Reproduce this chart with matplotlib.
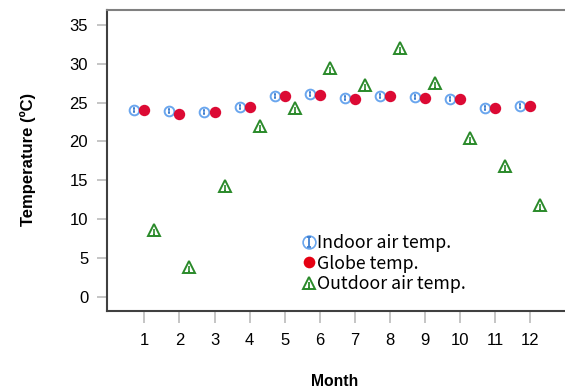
import matplotlib
matplotlib.use("Agg")
import matplotlib.pyplot as plt
from matplotlib.path import Path
from matplotlib.lines import Line2D
import numpy as np

months = [1, 2, 3, 4, 5, 6, 7, 8, 9, 10, 11, 12]
month_labels = ["1", "2", "3", "4", "5", "6", "7", "8", "9", "10", "11", "12"]
indoor = [24.1, 23.9, 23.85, 24.4, 25.9, 26.1, 25.6, 25.8, 25.7, 25.5, 24.35, 24.6]
globe = [24.1, 23.5, 23.75, 24.4, 25.9, 26.0, 25.5, 25.8, 25.65, 25.45, 24.35, 24.6]
outdoor = [8.6, 3.8, 14.2, 22.0, 24.3, 29.5, 27.3, 32.0, 27.5, 20.5, 16.9, 11.8]
yticks = [0, 5, 10, 15, 20, 25, 30, 35]

W, H = 565, 390
fig = plt.figure(figsize=(W / 100, H / 100), dpi=100)
left, right, top, bottom = 107, 568, 10, 311
ax = fig.add_axes([left / W, 1 - bottom / H, (right - left) / W, (bottom - top) / H])

px_per_month = 35.1
x0 = 1 - (144.3 - left) / px_per_month
ax.set_xlim(x0, x0 + (right - left) / px_per_month)
ppu = (296.7 - 25) / 35
ax.set_ylim(-(bottom - 296.7) / ppu, 35 + (25 - top) / ppu)

m = np.array(months, dtype=float)
off = 0.285

ibeam = Path([(0, -1), (0, 1), (-0.45, 1), (0.45, 1), (-0.45, -1), (0.45, -1)],
             [Path.MOVETO, Path.LINETO, Path.MOVETO, Path.LINETO, Path.MOVETO, Path.LINETO])
tri_stem = Path([(0, 0.2), (0, -1.25), (-0.25, -1.25), (0.25, -1.25)],
                [Path.MOVETO, Path.LINETO, Path.MOVETO, Path.LINETO])

blue_edge = "#6aa6ee"
blue_in = "#3f7fd0"
red = "#dc0a34"
green = "#2a8a2a"

# Indoor
ax.plot(m - off, indoor, ls="none", marker="o", ms=7, mfc="white", mec=blue_edge, mew=1.4, zorder=3)
ax.plot(m - off, indoor, ls="none", marker=ibeam, ms=3, mec=blue_in, mew=1.1, zorder=4)
# Globe
ax.plot(m, globe, ls="none", marker="o", ms=8.2, mfc=red, mec=red, mew=0, zorder=5)
# Outdoor
ax.plot(m + off, outdoor, ls="none", marker="^", ms=8.5, mfc="white", mec=green, mew=1.4, zorder=3)
ax.plot(m + off, outdoor, ls="none", marker=tri_stem, ms=6.5, mec=green, mew=1.2, zorder=4)

ax.set_xticks(months)
ax.set_xticklabels(month_labels)
ax.set_yticks(yticks)
ax.set_yticklabels([str(v) for v in yticks])

for lab in ax.get_xticklabels() + ax.get_yticklabels():
    lab.set_fontfamily("Liberation Sans")
    lab.set_fontsize(12)

ax.tick_params(axis="x", length=8.5, width=1.3, color="#c0c0c0", pad=7.5)
ax.tick_params(axis="y", length=7, width=1.3, color="#c0c0c0", pad=6.5)

ax.spines["right"].set_visible(False)
ax.spines["left"].set_color("#404040")
ax.spines["bottom"].set_color("#404040")
ax.spines["top"].set_color("#808080")
for s in ["left", "bottom", "top"]:
    ax.spines[s].set_linewidth(1.5)

fig.text(28 / W, 1 - 159 / H, "Temperature (ºC)", rotation=90, ha="center", va="center",
         fontsize=12, fontweight="bold", family="Liberation Sans")
fig.text(335 / W, 1 - 381 / H, "Month", ha="center", va="center",
         fontsize=11.3, fontweight="bold", family="Liberation Sans")

# Legend
h_in = (Line2D([], [], ls="none", marker="o", ms=9.2, mfc="white", mec=blue_edge, mew=1.2),
        Line2D([], [], ls="none", marker=ibeam, ms=7, mec=blue_in, mew=1.3))
h_gl = Line2D([], [], ls="none", marker="o", ms=8.4, mfc="#e50012", mec="#e50012", mew=0)
h_out = (Line2D([], [], ls="none", marker="^", ms=8.5, mfc="white", mec=green, mew=1.4),
         Line2D([], [], ls="none", marker=tri_stem, ms=6.5, mec=green, mew=1.3))
leg = fig.legend([h_in, h_gl, h_out], ["Indoor air temp.", "Globe temp.", "Outdoor air temp."],
                 loc="upper left", bbox_to_anchor=(302 / W, 1 - 234 / H), frameon=False,
                 handlelength=0.8, handletextpad=0.05, labelspacing=0.15, borderpad=0, borderaxespad=0,
                 prop={"family": ["Noto Sans CJK JP", "DejaVu Sans"], "size": 12.8})

fig.savefig("out.png", dpi=100)
